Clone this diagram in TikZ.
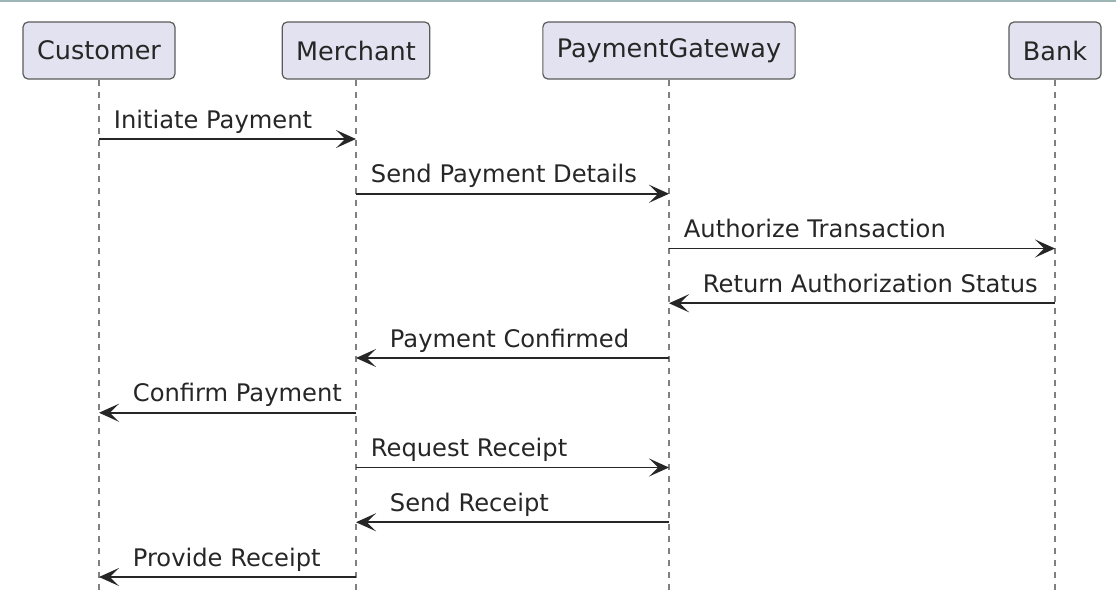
\documentclass[tikz,border=0pt]{standalone}
\usepackage{fontspec}
\setmainfont{DejaVu Sans}
\usetikzlibrary{arrows.meta}

\definecolor{partfill}{HTML}{E2E2F0}
\definecolor{partline}{HTML}{5A5A5A}
\definecolor{topline}{HTML}{9DB5B5}

\begin{document}
\begin{tikzpicture}[
        x=0.5pt, y=-0.5pt,
        >={Stealth[length=10pt, width=9pt, inset=4.6pt]},
        participant/.style={draw=partline, line width=0.6pt, fill=partfill,
            rounded corners=2.5pt, minimum height=28.5pt, inner xsep=7pt,
            font=\fontsize{12.75}{15}\selectfont, text=black!85},
        lifeline/.style={black!50, line width=0.65pt, dash pattern=on 3pt off 3pt},
        msg/.style={->, line width=0.9pt, black!85},
        lbl/.style={anchor=base west, inner sep=0pt, yshift=5.5pt,
            font=\fontsize{12.1}{14}\selectfont},
        lblR/.style={lbl, pos=0, xshift=7pt},
        lblL/.style={lbl, pos=1, xshift=16.5pt}
    ]

        % === DEFINITIONS ===
        \def\picW{1116}   % width of the drawing area
        \def\picH{590}    % height of the drawing area
        \def\yHead{50.5}  % centre line of the participant boxes
        \def\yFirst{139}  % first message
        \def\rowsep{54.75}

        \useasboundingbox (0,0) rectangle (\picW,\picH);
        \draw[topline, line width=1pt] (0,1) -- (\picW,1);

        % === 1. PARTICIPANTS ===
        \node[participant] (Customer) at (99, \yHead) {Customer};
        \node[participant] (Merchant) at (356, \yHead) {Merchant};
        \node[participant] (Gateway) at (669, \yHead) {PaymentGateway};
        \node[participant] (Bank) at (1055, \yHead) {Bank};

        % === 2. LIFELINES ===
        \foreach \p in {Customer, Merchant, Gateway, Bank}
            \draw[lifeline] (\p.south) -- (\p |- 0,\picH) coordinate (\p-end);

        % === 3. MESSAGES ===
        \foreach \from/\to/\side/\txt [count=\i from 0] in {
                Customer/Merchant/R/Initiate Payment,
                Merchant/Gateway/R/Send Payment Details,
                Gateway/Bank/R/Authorize Transaction,
                Bank/Gateway/L/Return Authorization Status,
                Gateway/Merchant/L/Payment Confirmed,
                Merchant/Customer/L/Confirm Payment,
                Merchant/Gateway/R/Request Receipt,
                Gateway/Merchant/L/Send Receipt,
                Merchant/Customer/L/Provide Receipt}
        {
            \pgfmathsetmacro\y{\yFirst + \i*\rowsep}
            \draw[msg] (\from |- 0,\y) -- node[lbl\side] (m\i) {\txt} (\to |- 0,\y);
        }

    \end{tikzpicture}
\end{document}
